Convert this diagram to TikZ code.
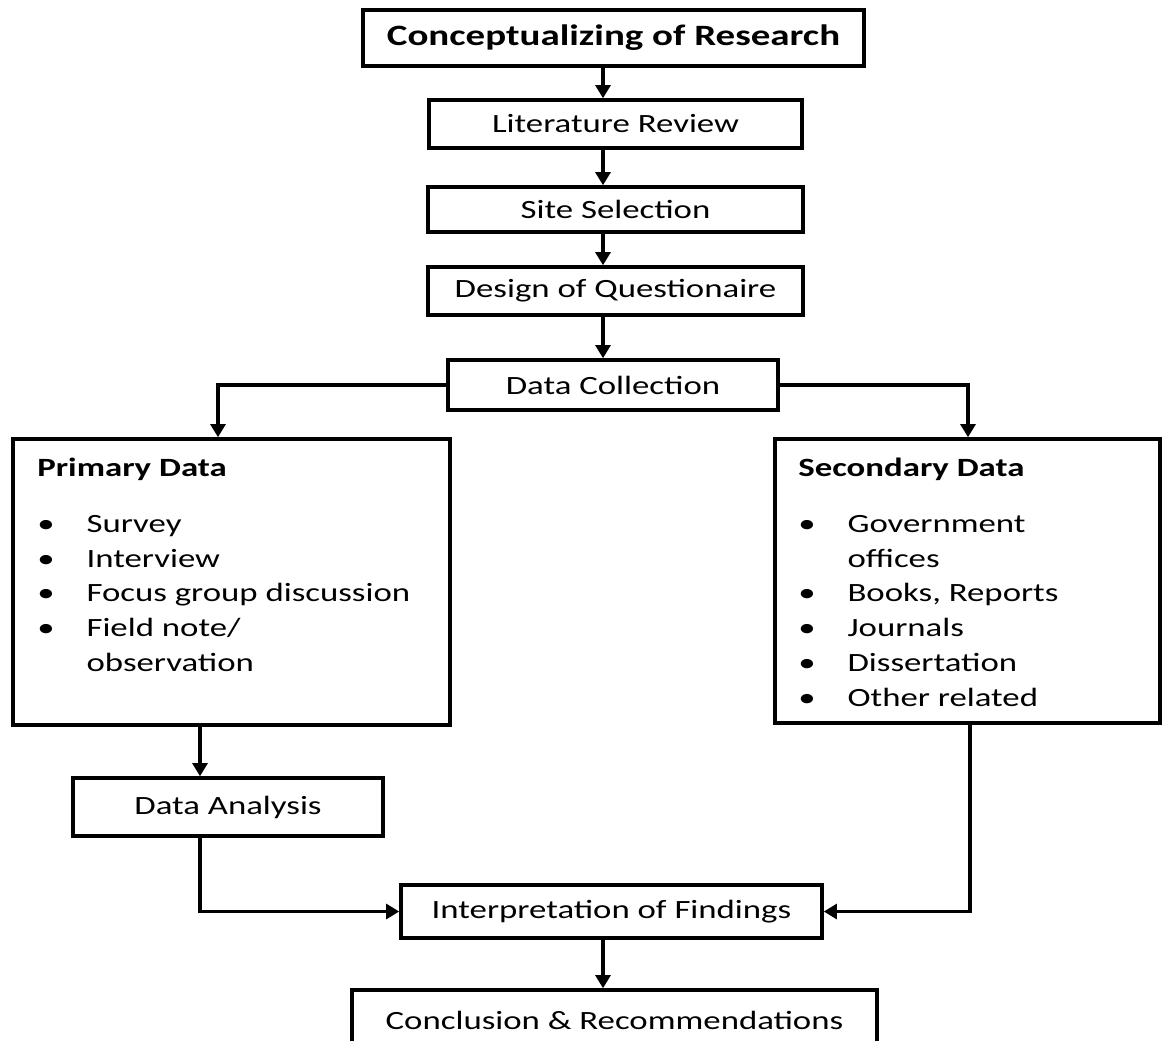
\documentclass[tikz,border=0pt]{standalone}
\usepackage{fontspec}
\setmainfont{Carlito}[FakeStretch=1.32]
\usetikzlibrary{arrows.meta}

\newcommand{\bitem}[1]{\makebox[28pt][l]{\textbullet}#1}

\begin{document}
\begin{tikzpicture}[
    >={Triangle[length=7.5pt, width=8.5pt]},
    stage/.style = {
        rectangle, draw, line width = 2pt,
        inner sep = 0pt, align = center,
        font = \fontsize{15}{18}\selectfont
    },
    headbox/.style = {
        stage, font = \fontsize{16.8}{20}\selectfont\bfseries
    },
    listbox/.style = {
        rectangle, draw, line width = 2pt, inner sep = 0pt
    },
    listtext/.style = {
        align = left, inner sep = 0pt, anchor = north west,
        font = \fontsize{15}{19.8}\selectfont
    },
    arrow/.style = {line width = 2.2pt, ->}
]
\useasboundingbox (0,0) rectangle (23.24,-20.8);

% --- Nodes placed by absolute coordinates (cm) ---
\node[headbox, minimum width = 10.02cm, minimum height = 1.12cm]
    (concept) at (12.27, -0.76) {Conceptualizing of Research};

\node[stage, minimum width = 7.46cm, minimum height = 0.96cm]
    (lit) at (12.31, -2.48) {Literature Review};

\node[stage, minimum width = 7.5cm, minimum height = 0.9cm]
    (site) at (12.31, -4.19) {Site Selection};

\node[stage, minimum width = 7.5cm, minimum height = 0.96cm]
    (design) at (12.31, -5.82) {Design of Questionaire};

\node[stage, minimum width = 6.6cm, minimum height = 1.0cm]
    (collect) at (12.26, -7.70) {Data Collection};

\node[listbox, minimum width = 8.74cm, minimum height = 5.72cm]
    (primary) at (4.63, -11.64) {};
\node[listtext] (primtext) at (0.74, -9.15)
    {\textbf{Primary Data}\\[12pt]
     \bitem{Survey}\\
     \bitem{Interview}\\
     \bitem{Focus group discussion}\\
     \bitem{Field note/}\\
     \hspace*{28pt}observation};

\node[listbox, minimum width = 7.70cm, minimum height = 5.68cm]
    (secondary) at (19.35, -11.62) {};
\node[listtext] (sectext) at (15.96, -9.15)
    {\textbf{Secondary Data}\\[12pt]
     \bitem{Government}\\
     \hspace*{28pt}offices\\
     \bitem{Books, Reports}\\
     \bitem{Journals}\\
     \bitem{Dissertation}\\
     \bitem{Other related}};

\node[stage, minimum width = 6.2cm, minimum height = 1.16cm]
    (analysis) at (4.56, -16.14) {Data Analysis};

\node[stage, minimum width = 8.42cm, minimum height = 1.06cm]
    (interp) at (12.23, -18.23) {Interpretation of Findings};

\node[stage, minimum width = 10.5cm, minimum height = 1.2cm]
    (conclusion) at (12.29, -20.4) {Conclusion \& Recommendations};

% --- Arrows ---
\coordinate (spine) at (12.06, 0);
\coordinate (leftx) at (4.36, 0);
\coordinate (rightx) at (19.36, 0);
\coordinate (anx) at (4.0, 0);
\coordinate (secx) at (19.4, 0);

\draw[arrow] (concept.south -| spine) -- (lit.north -| spine);
\draw[arrow] (lit.south -| spine) -- (site.north -| spine);
\draw[arrow] (site.south -| spine) -- (design.north -| spine);
\draw[arrow] (design.south -| spine) -- (collect.north -| spine);

\draw[arrow] (collect.west) -| (leftx |- primary.north);
\draw[arrow] (collect.east) -| (rightx |- secondary.north);

\draw[arrow] (primary.south -| anx) -- (analysis.north -| anx);
\draw[arrow] (analysis.south -| anx) |- (interp.west);
\draw[arrow] (secondary.south -| secx) |- (interp.east);

\draw[arrow] (interp.south -| spine) -- (conclusion.north -| spine);

\end{tikzpicture}
\end{document}
